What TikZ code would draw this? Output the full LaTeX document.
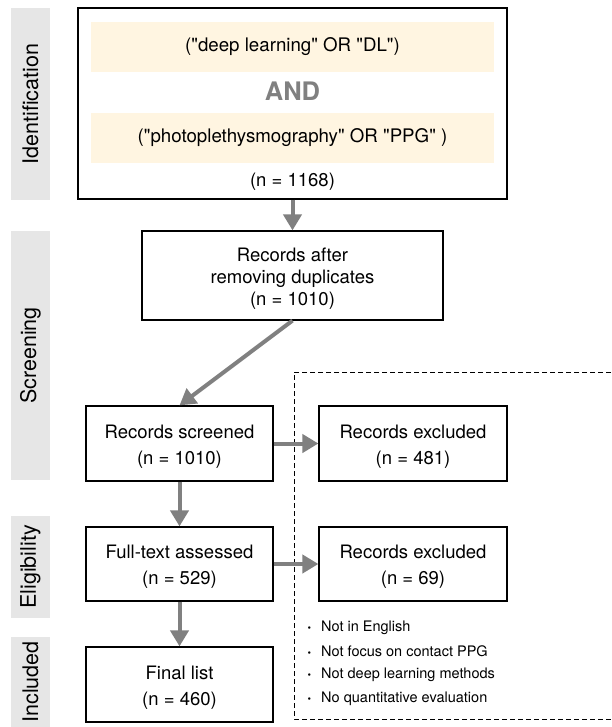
\documentclass[tikz,border=0pt]{standalone}
\usepackage{fontspec}
\setmainfont{TeX Gyre Heros}
\usetikzlibrary{arrows.meta}
\definecolor{arrowgray}{RGB}{128,128,128}
\definecolor{labelgray}{RGB}{230,230,230}
\definecolor{cream}{RGB}{255,245,225}
\definecolor{andgray}{RGB}{128,128,128}
\newcommand{\q}{\textquotedbl}
\newcommand{\lowerstrut}{\rule{0pt}{19pt}}
\begin{document}
\begin{tikzpicture}[x=1pt,y=-1pt,
  side/.style={fill=labelgray, rotate=90, inner sep=0pt, minimum height=39pt, font=\fontsize{21.5}{24}\selectfont},
  box/.style={draw=black, line width=1.2pt, fill=white, inner sep=0pt, align=center, font=\fontsize{18.5}{26}\selectfont},
  query/.style={fill=cream, minimum width=403pt, minimum height=50pt, inner sep=0pt, font=\fontsize{18.7}{22}\selectfont},
  flow/.style={draw=arrowgray, line width=4pt, -{Triangle[width=18pt,length=16pt]}},
  reason/.style={anchor=west, inner sep=0pt, font=\fontsize{14.5}{17}\selectfont},
  plain/.style={inner sep=0pt, font=\fontsize{18.5}{22}\selectfont},
]
\useasboundingbox (0,0) rectangle (611,727);

% side labels
\node[side, minimum width=192pt] (lid) at (30.5,104) {Identification};
\node[side, minimum width=249pt] (lsc) at (30.5,355.5) {Screening};
\node[side, minimum width=102pt] (lel) at (30.5,567) {Eligibility};
\node[side, minimum width=90pt] (lin) at (30.5,682) {Included};

% identification box
\node[box, minimum width=429pt, minimum height=191pt] (top) at (292.5,103.5) {};
\node[query] (q1) at (292.5,47) {(\q deep learning\q{} OR \q DL\q)};
\node[plain, text=andgray, font=\fontsize{25.5}{28}\selectfont\bfseries] (and) at (292.5,91) {AND};
\node[query] (q2) at (292.5,138) {(\q photoplethysmography\q{} OR \q PPG\q{} )};
\node[plain] (n1) at (292.5,182) {(n = 1168)};

% dashed exclusion region
\draw[line width=0.9pt, dash pattern=on 5pt off 3pt] (611,372) -- (294,372) -- (294,719) -- (611,719);

% flow boxes
\node[box, minimum width=301pt, minimum height=89pt, font=\fontsize{18.5}{22}\selectfont] (rad) at (292.5,275.5) {\lowerstrut Records after\\removing duplicates\\(n = 1010)};
\node[box, minimum width=187pt, minimum height=75pt] (scr) at (179.5,443.5) {\lowerstrut Records screened\\(n = 1010)};
\node[box, minimum width=188pt, minimum height=75pt] (ex1) at (413,443.5) {\lowerstrut Records excluded\\(n = 481)};
\node[box, minimum width=187pt, minimum height=74pt] (ft) at (179.5,564) {\lowerstrut Full-text assessed\\(n = 529)};
\node[box, minimum width=188pt, minimum height=74pt] (ex2) at (413,564) {\lowerstrut Records excluded\\(n = 69)};
\node[box, minimum width=187pt, minimum height=75pt] (fl) at (179.5,684.5) {\lowerstrut Final list\\(n = 460)};

% reasons
\node[reason] (r1) at (307.5,628) {{\fontsize{10}{10}\selectfont\textbullet}\hspace{10pt}Not in English};
\node[reason] (r2) at (307.5,651.5) {{\fontsize{10}{10}\selectfont\textbullet}\hspace{10pt}Not focus on contact PPG};
\node[reason] (r3) at (307.5,675) {{\fontsize{10}{10}\selectfont\textbullet}\hspace{10pt}Not deep learning methods};
\node[reason] (r4) at (307.5,698.5) {{\fontsize{10}{10}\selectfont\textbullet}\hspace{10pt}No quantitative evaluation};

% arrows
\draw[flow] (top.south) -- (rad.north);
\draw[flow] (rad.south) -- (scr.north);
\draw[flow] (scr.east) -- (ex1.west);
\draw[flow] (scr.south) -- (ft.north);
\draw[flow] (ft.east) -- (ex2.west);
\draw[flow] (ft.south) -- (fl.north);
\end{tikzpicture}
\end{document}
